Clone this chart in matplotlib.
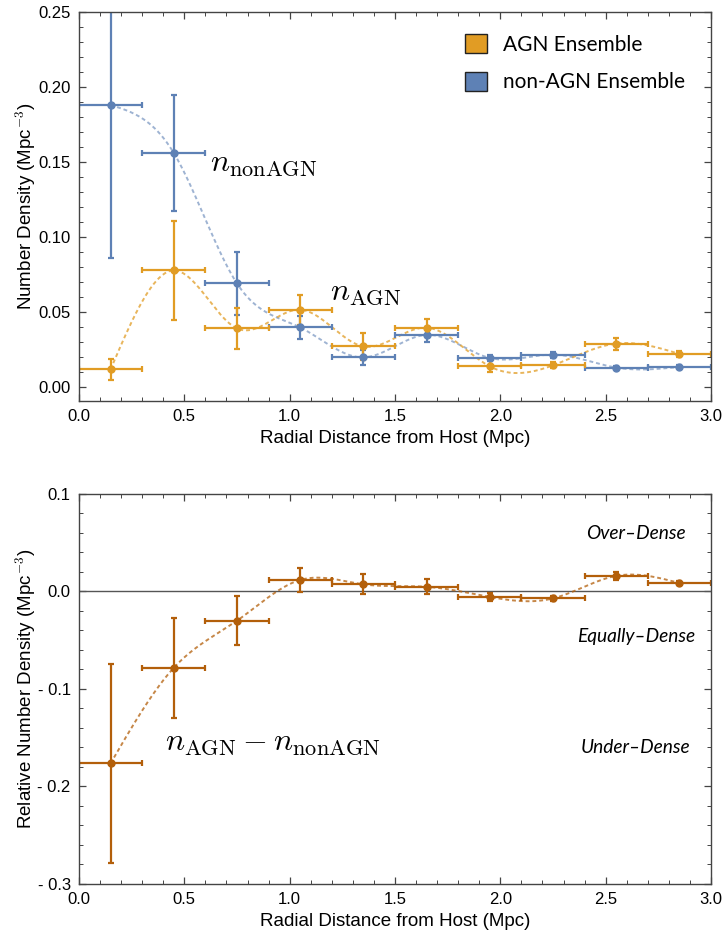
import numpy as np
import matplotlib.pyplot as plt
from matplotlib.patches import Patch
from matplotlib.ticker import MultipleLocator, FuncFormatter

plt.rcParams['font.family'] = ['Liberation Sans', 'DejaVu Sans']
plt.rcParams['mathtext.fontset'] = 'cm'

# bin centres (Mpc), bins are 0.3 Mpc wide
r = np.array([0.15, 0.45, 0.75, 1.05, 1.35, 1.65, 1.95, 2.25, 2.55, 2.85])
bin_half = 0.15

n_agn = np.array([0.0117, 0.0777, 0.0390, 0.0515, 0.0270, 0.0395, 0.0137, 0.0144, 0.0289, 0.0220])
err_agn = np.array([0.0070, 0.0330, 0.0135, 0.0100, 0.0090, 0.0060, 0.0040, 0.0020, 0.0040, 0.0020])

n_non = np.array([0.1880, 0.1560, 0.0690, 0.0397, 0.0197, 0.0347, 0.0193, 0.0215, 0.0129, 0.0133])
err_non = np.array([0.1020, 0.0390, 0.0210, 0.0078, 0.0050, 0.0050, 0.0020, 0.0020, 0.0010, 0.0010])

# relative density and its error (errors added in quadrature)
n_diff = n_agn - n_non
err_diff = np.sqrt(err_agn**2 + err_non**2)

c_agn = '#E19C24'
c_non = '#5E81B5'
c_diff = '#B35F0A'


def natural_spline(x, y, xs):
    n = len(x)
    h = np.diff(x)
    A = np.zeros((n, n))
    rhs = np.zeros(n)
    A[0, 0] = A[-1, -1] = 1
    for i in range(1, n - 1):
        A[i, i - 1] = h[i - 1]
        A[i, i] = 2 * (h[i - 1] + h[i])
        A[i, i + 1] = h[i]
        rhs[i] = 3 * ((y[i + 1] - y[i]) / h[i] - (y[i] - y[i - 1]) / h[i - 1])
    c = np.linalg.solve(A, rhs)
    b = (y[1:] - y[:-1]) / h - h * (2 * c[:-1] + c[1:]) / 3
    d = (c[1:] - c[:-1]) / (3 * h)
    idx = np.clip(np.searchsorted(x, xs) - 1, 0, n - 2)
    dx = xs - x[idx]
    return y[idx] + b[idx] * dx + c[idx] * dx**2 + d[idx] * dx**3


xs = np.linspace(r[0], r[-1], 400)

fig = plt.figure(figsize=(7.26, 9.4), dpi=100)
ax1 = fig.add_axes([0.1088, 0.5734, 0.8705, 0.4138])
ax2 = fig.add_axes([0.1088, 0.0596, 0.8705, 0.4149])


def style_axes(ax, ylabel):
    for s in ax.spines.values():
        s.set_color('#444444')
        s.set_linewidth(1.0)
    ax.tick_params(which='both', direction='in', top=True, right=True,
                   color='#444444', labelsize=12, pad=6)
    ax.tick_params(which='major', length=5, width=0.9)
    ax.tick_params(which='minor', length=3, width=0.7)
    ax.xaxis.set_major_locator(MultipleLocator(0.5))
    ax.xaxis.set_minor_locator(MultipleLocator(0.1))
    ax.xaxis.set_major_formatter(FuncFormatter(lambda v, p: f'{v:.1f}'))
    ax.set_xlim(0, 3.0)
    ax.set_xlabel('Radial Distance from Host (Mpc)', fontsize=13.5)
    ax.xaxis.set_label_coords(0.5, -0.075)
    ax.set_ylabel(ylabel, fontsize=13.5)
    ax.yaxis.set_label_coords(-0.065, 0.5)


eb_kw = dict(fmt='o', markersize=5, elinewidth=1.6, capsize=2.5, capthick=1.6)
dash = (0, (2, 1.5))

# top panel: absolute number densities
ax1.plot(xs, natural_spline(r, n_non, xs), ls=dash, color=c_non, alpha=0.6, lw=1.4)
ax1.plot(xs, natural_spline(r, n_agn, xs), ls=dash, color=c_agn, alpha=0.75, lw=1.4)
ax1.errorbar(r, n_non, yerr=err_non, xerr=bin_half, color=c_non, **eb_kw)
ax1.errorbar(r, n_agn, yerr=err_agn, xerr=bin_half, color=c_agn, **eb_kw)
style_axes(ax1, 'Number Density (Mpc$^{-3}$)')
ax1.set_ylim(-0.0094, 0.25)
ax1.yaxis.set_major_locator(MultipleLocator(0.05))
ax1.yaxis.set_minor_locator(MultipleLocator(0.01))
ax1.yaxis.set_major_formatter(FuncFormatter(lambda v, p: f'{v:.2f}'))
ax1.text(0.62, 0.1495, r'$n_{\rm nonAGN}$', fontsize=23, va='center')
ax1.text(1.19, 0.0635, r'$n_{\rm AGN}$', fontsize=23, va='center')

handles = [Patch(facecolor=c_agn, edgecolor='#222222', label='AGN Ensemble'),
           Patch(facecolor=c_non, edgecolor='#222222', label='non-AGN Ensemble')]
ax1.legend(handles=handles, loc='upper left', bbox_to_anchor=(0.611, 0.944),
           borderpad=0, borderaxespad=0, frameon=False,
           prop={'family': 'Lato', 'size': 15},
           handlelength=1.06, handleheight=1.06, handletextpad=0.75, labelspacing=0.81)

# bottom panel: AGN minus non-AGN
ax2.axhline(0, color='#555555', lw=1.0)
ax2.plot(xs, natural_spline(r, n_diff, xs), ls=dash, color=c_diff, alpha=0.75, lw=1.4)
ax2.errorbar(r, n_diff, yerr=err_diff, xerr=bin_half, color=c_diff, **eb_kw)
style_axes(ax2, 'Relative Number Density (Mpc$^{-3}$)')
ax2.set_ylim(-0.3, 0.1)
ax2.yaxis.set_major_locator(MultipleLocator(0.1))
ax2.yaxis.set_minor_locator(MultipleLocator(0.02))
ax2.yaxis.set_major_formatter(FuncFormatter(
    lambda v, p: f'- {abs(v):.1f}' if v < -1e-9 else f'{abs(v):.1f}'))
ax2.text(0.41, -0.154, r'$n_{\rm AGN} - n_{\rm nonAGN}$', fontsize=23, va='center')

for label, yv in [('Over–Dense', 0.059), ('Equally–Dense', -0.046), ('Under–Dense', -0.160)]:
    ax2.text(2.643, yv, label, fontsize=13.8, style='italic', family='Lato',
             ha='center', va='center')

fig.savefig('out.png', dpi=100)
